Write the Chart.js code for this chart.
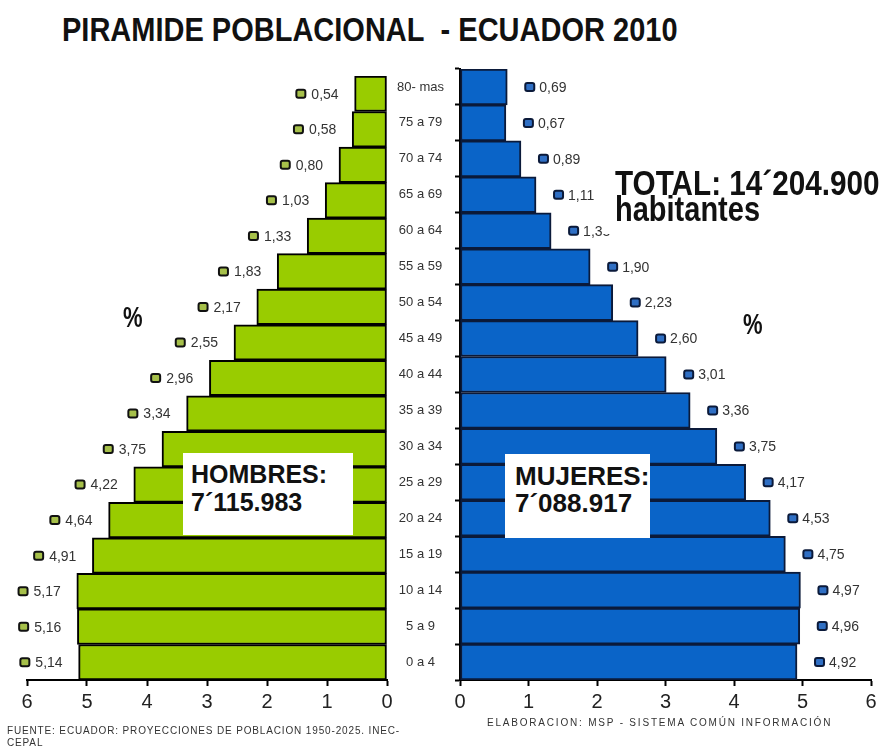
<!DOCTYPE html>
<html lang="es">
<head>
  <meta charset="UTF-8">
  <title>Piramide poblacional - Ecuador 2010</title>
  <script src="https://cdn.jsdelivr.net/npm/chart.js@4/dist/chart.umd.js"></script>
  <style>
    body { margin: 0; background: #fff; font-family: "Liberation Sans", Arial, sans-serif; }
    #wrap { position: relative; width: 884px; height: 747px; overflow: hidden; background: #fff; }
    canvas { position: absolute; }
    #menChart { left: 0; top: 60px; z-index: 2; }
    #womenChart { left: 380px; top: 60px; z-index: 1; }
    .txt { position: absolute; z-index: 4; font-weight: bold; color: #111; white-space: nowrap; line-height: 1; transform-origin: 0 0; }
    .box { position: absolute; z-index: 3; background: #fff; }
    .note { position: absolute; z-index: 4; color: #333; font-size: 10px; line-height: 12px; white-space: nowrap; }
  </style>
</head>
<body>
<div id="wrap">
  <div class="txt" style="left:62px; top:14px; font-size:29px; transform:scaleY(1.12);">PIRAMIDE POBLACIONAL&nbsp; - ECUADOR 2010</div>

  <canvas id="menChart" width="400" height="660"></canvas>
  <canvas id="womenChart" width="504" height="660"></canvas>

  <div class="txt" style="left:123px; top:304px; font-size:22px; transform:scaleY(1.3);">%</div>
  <div class="txt" style="left:743px; top:311px; font-size:22px; transform:scaleY(1.3);">%</div>

  <div class="txt" style="left:615px; top:165px; font-size:29.7px; transform:scaleY(1.2);">TOTAL: 14´204.900</div>
  <div class="box" style="left:603px; top:197px; width:175px; height:37px;"></div>
  <div class="txt" style="left:615px; top:192px; font-size:29px; transform:scaleY(1.2);">habitantes</div>

  <div class="box" style="left:183px; top:453px; width:170px; height:82px;"></div>
  <div class="txt" style="left:191px; top:460px; font-size:25px; line-height:28px;">HOMBRES:<br>7´115.983</div>

  <div class="box" style="left:505px; top:454px; width:145px; height:84px;"></div>
  <div class="txt" style="left:515px; top:463px; font-size:26px; line-height:27px;">MUJERES:<br>7´088.917</div>

  <div class="note" style="left:7px; top:725px; letter-spacing:0.85px;">FUENTE: ECUADOR: PROYECCIONES DE POBLACION 1950-2025. INEC-<br>CEPAL</div>
  <div class="note" style="left:487px; top:717px; letter-spacing:1.8px;">ELABORACION: MSP - SISTEMA COMÚN INFORMACIÓN</div>
</div>

<script>
  // age groups, oldest on top
  const ageGroups = ['80- mas', '75 a 79', '70 a 74', '65 a 69', '60 a 64', '55 a 59', '50 a 54', '45 a 49',
    '40 a 44', '35 a 39', '30 a 34', '25 a 29', '20 a 24', '15 a 19', '10 a 14', '5 a 9', '0 a 4'];
  // % of population
  const hombres = [0.54, 0.58, 0.80, 1.03, 1.33, 1.83, 2.17, 2.55, 2.96, 3.34, 3.75, 4.22, 4.64, 4.91, 5.17, 5.16, 5.14];
  const mujeres = [0.69, 0.67, 0.89, 1.11, 1.33, 1.90, 2.23, 2.60, 3.01, 3.36, 3.75, 4.17, 4.53, 4.75, 4.97, 4.96, 4.92];
  const axisMin = 0, axisMax = 6, axisStep = 1;

  const FONT = '"Liberation Sans", Arial, sans-serif';

  function roundRect(ctx, x, y, w, h, r) {
    ctx.beginPath();
    ctx.moveTo(x + r, y);
    ctx.arcTo(x + w, y, x + w, y + h, r);
    ctx.arcTo(x + w, y + h, x, y + h, r);
    ctx.arcTo(x, y + h, x, y, r);
    ctx.arcTo(x, y, x + w, y, r);
    ctx.closePath();
  }

  // value label with a little legend key next to each bar
  function valueLabels(side, keyFill, keyStroke) {
    return {
      id: 'valueLabels',
      afterDatasetsDraw(chart) {
        const ctx = chart.ctx;
        const values = chart.data.datasets[0].data;
        ctx.save();
        ctx.font = '14px ' + FONT;
        ctx.textBaseline = 'middle';
        chart.getDatasetMeta(0).data.forEach((bar, i) => {
          const txt = values[i].toFixed(2).replace('.', ',');
          const w = ctx.measureText(txt).width;
          let keyX, textX;
          if (side === 'left') {
            textX = bar.x - 16 - w;
            keyX = textX - 15;
          } else {
            keyX = bar.x + 18;
            textX = bar.x + 32;
          }
          roundRect(ctx, keyX, bar.y - 4, 9, 8, 2);
          ctx.fillStyle = keyFill; ctx.fill();
          ctx.lineWidth = 2; ctx.strokeStyle = keyStroke; ctx.stroke();
          ctx.fillStyle = '#333';
          ctx.textAlign = 'left';
          ctx.fillText(txt, textX, bar.y + 1);
        });
        ctx.restore();
      }
    };
  }

  function xScale(reverse) {
    return {
      min: axisMin, max: axisMax, reverse,
      ticks: { stepSize: axisStep, color: '#222', font: { family: FONT, size: 20 }, padding: 4 },
      grid: { drawOnChartArea: false, tickLength: 6, tickColor: '#000', tickWidth: 2 },
      border: { color: '#000', width: 2 },
      afterFit: s => { s.height = 40; }
    };
  }

  new Chart(document.getElementById('menChart'), {
    type: 'bar',
    data: {
      labels: ageGroups,
      datasets: [{ data: hombres, backgroundColor: '#99cc00', borderColor: '#000', borderWidth: 2,
        borderSkipped: false, barPercentage: 1, categoryPercentage: 1 }]
    },
    options: {
      indexAxis: 'y', responsive: false, animation: false,
      layout: { padding: { left: 27, top: 16, right: 0, bottom: 0 } },
      plugins: { legend: { display: false }, tooltip: { enabled: false } },
      scales: {
        x: xScale(true),
        y: { position: 'right', ticks: { display: false }, grid: { display: false }, border: { display: false },
          afterFit: s => { s.width = 13; } }
      }
    },
    plugins: [valueLabels('left', '#a6c04a', '#111')]
  });

  new Chart(document.getElementById('womenChart'), {
    type: 'bar',
    data: {
      labels: ageGroups,
      datasets: [{ data: mujeres, backgroundColor: '#0a64c8', borderColor: '#0b1a3a', borderWidth: 2,
        borderSkipped: false, barPercentage: 1, categoryPercentage: 1 }]
    },
    options: {
      indexAxis: 'y', responsive: false, animation: false,
      layout: { padding: { left: 0, top: 9, right: 13, bottom: 0 } },
      plugins: { legend: { display: false }, tooltip: { enabled: false } },
      scales: {
        x: xScale(false),
        y: {
          position: 'left',
          ticks: { color: '#333', font: { family: FONT, size: 13 }, crossAlign: 'center', padding: 11 },
          grid: { drawOnChartArea: false, offset: true, tickLength: 5, tickColor: '#000', tickWidth: 2 },
          border: { color: '#000', width: 2 },
          afterFit: s => { s.width = 80; s.paddingTop = 0; s.paddingBottom = 0; }
        }
      }
    },
    plugins: [valueLabels('right', '#2f6fc4', '#0b1a3a')]
  });
</script>
</body>
</html>
